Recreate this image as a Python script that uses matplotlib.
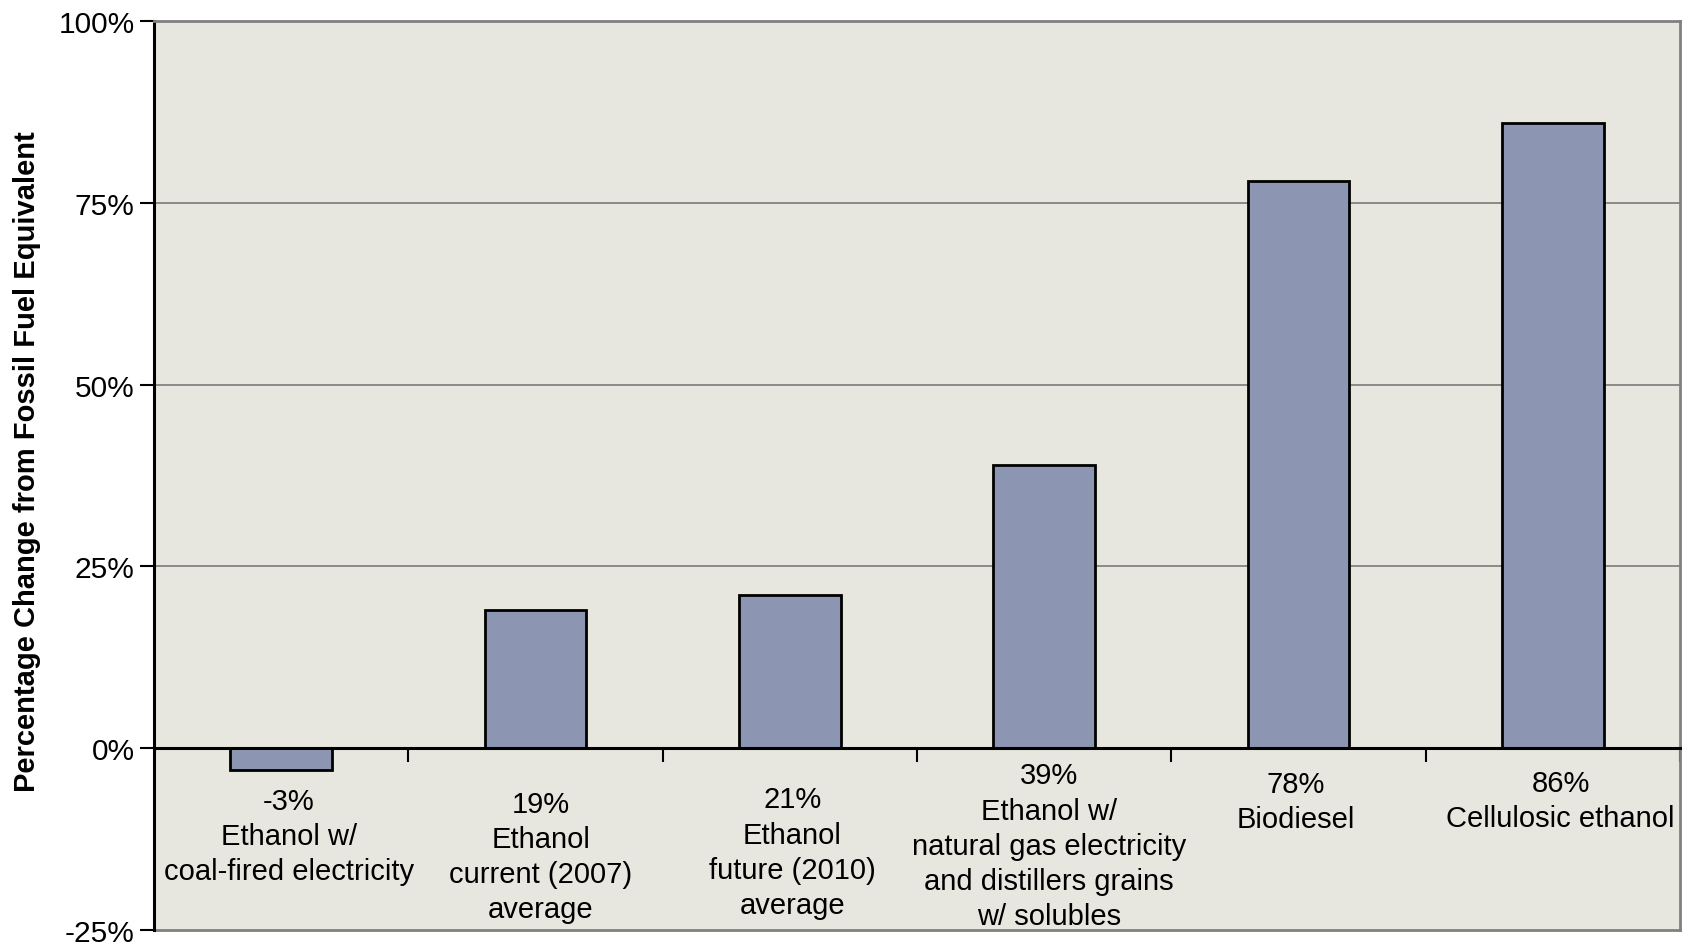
import numpy as np
import matplotlib.pyplot as plt

plt.rcParams['font.family'] = ['Liberation Sans', 'DejaVu Sans']

# data
names = ["Ethanol w/\ncoal-fired electricity",
         "Ethanol\ncurrent (2007)\naverage",
         "Ethanol\nfuture (2010)\naverage",
         "Ethanol w/\nnatural gas electricity\nand distillers grains\nw/ solubles",
         "Biodiesel",
         "Cellulosic ethanol"]
values = [-3, 19, 21, 39, 78, 86]
yticks = [-25, 0, 25, 50, 75, 100]
ylabel = "Percentage Change from Fossil Fuel Equivalent"

# where each label block sits (top, and a small sideways nudge), in data units
label_top = [-5.3, -5.7, -5.1, -1.8, -3.0, -2.8]
label_dx = [0.03, 0.02, 0.01, 0.02, -0.01, 0.03]

bg = '#e7e7df'
barcol = '#8c96b2'

fig = plt.figure(figsize=(16.82, 9.45), dpi=100)
ax = fig.add_axes([154/1682, 1-931/945, (1680-154)/1682, (931-22)/945])
ax.set_facecolor(bg)

x = np.arange(len(values))
ax.bar(x, values, width=0.4, color=barcol, edgecolor='black', linewidth=2, zorder=3)

ax.set_xlim(-0.5, len(values)-0.5)
ax.set_ylim(-25, 100)
ax.set_yticks(yticks)
ax.set_yticklabels([f"{t}%" for t in yticks], fontsize=21.5)
ax.tick_params(axis='y', direction='out', length=10, width=1.5, pad=4)

for t in [25, 50, 75]:
    ax.axhline(t, color='#7a7a7a', lw=1.2, zorder=1)

# x axis sits on the zero line, ticks between categories
ax.spines['bottom'].set_position(('data', 0))
ax.spines['bottom'].set_linewidth(2.2)
ax.spines['bottom'].set_zorder(4)
ax.set_xticks(np.arange(len(values)) + 0.5)
ax.set_xticklabels([])
ax.tick_params(axis='x', direction='out', length=10, width=1.5)

ax.spines['left'].set_linewidth(2.2)
ax.spines['top'].set_color('#808080')
ax.spines['top'].set_linewidth(2)
ax.spines['right'].set_color('#808080')
ax.spines['right'].set_linewidth(2)
ax.axhline(-25, color='#808080', lw=2, clip_on=False)

for i, (v, n) in enumerate(zip(values, names)):
    ax.text(i + label_dx[i], label_top[i], f"{v}%\n{n}", ha='center', va='top',
            fontsize=21, linespacing=1.33)

fig.text(27/1682, 1-462/945, ylabel, rotation=90, ha='center', va='center',
         fontsize=21, fontweight='bold')

fig.savefig('out.png', dpi=100, facecolor='white')
